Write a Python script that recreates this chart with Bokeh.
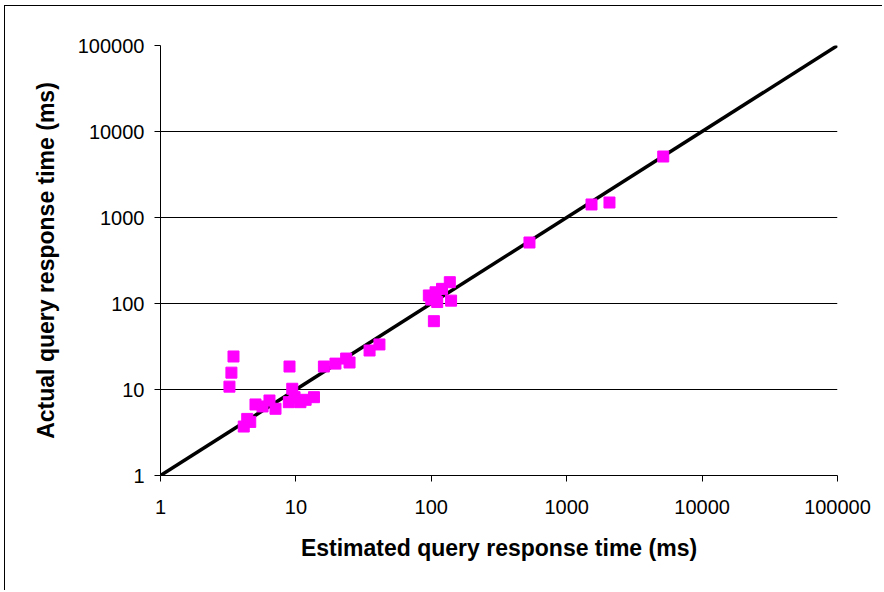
from bokeh.plotting import figure
from bokeh.models import Range1d, FixedTicker, NumeralTickFormatter, ColumnDataSource
from bokeh.embed import file_html
from bokeh.resources import INLINE

# ---- data ----
estimated_ms = [3.23, 3.34, 3.46, 4.12, 4.37, 4.6, 5.03, 5.67, 6.38, 7.07,
                8.87, 8.97, 9.4, 9.77, 10.8, 11.8, 13.6, 16.1, 19.6, 23.5,
                24.9, 35.0, 41.4, 95.9, 100.0, 104.5, 107.5, 110.6, 120.0,
                137.0, 140.0, 531.0, 1525.0, 2070.0, 5164.0]
actual_ms = [10.8, 15.7, 24.2, 3.71, 4.55, 4.2, 6.7, 6.35, 7.45, 5.97,
             7.12, 18.5, 10.2, 8.14, 7.12, 7.59, 8.14, 18.5, 20.0, 22.9,
             20.6, 28.4, 33.4, 124.0, 111.0, 62.3, 135.0, 104.0, 148.0,
             177.0, 108.0, 512.0, 1417.0, 1494.0, 5118.0]
ideal_x = [1, 100000]
ideal_y = [1, 100000]
tick_values = [1, 10, 100, 1000, 10000, 100000]

x_label = "Estimated query response time (ms)"
y_label = "Actual query response time (ms)"

FONT = "Liberation Sans"

p = figure(width=878, height=585, x_axis_type="log", y_axis_type="log",
           x_range=Range1d(1, 100000), y_range=Range1d(1, 100000),
           output_backend="svg", toolbar_location=None,
           min_border_left=155, min_border_right=46,
           min_border_top=39, min_border_bottom=116)
p.styles = {"border-left": "1px solid #000000", "border-top": "1px solid #000000",
            "margin-left": "4px", "margin-top": "5px"}

p.outline_line_color = None
p.background_fill_color = "white"
p.border_fill_color = "white"

# grid: horizontal only
p.xgrid.grid_line_color = None
p.ygrid.grid_line_color = "black"
p.ygrid.grid_line_width = 1
p.ygrid.ticker = FixedTicker(ticks=tick_values)

for ax in (p.xaxis[0], p.yaxis[0]):
    ax.ticker = FixedTicker(ticks=tick_values)
    ax.formatter = NumeralTickFormatter(format="0")
    ax.axis_line_color = "black"
    ax.axis_line_width = 1
    ax.major_tick_line_color = "black"
    ax.major_tick_out = 6
    ax.major_tick_in = 0
    ax.minor_tick_line_color = None
    ax.major_label_text_font = FONT
    ax.major_label_text_font_size = "20px"
    ax.major_label_text_color = "black"
    ax.axis_label_text_font = FONT
    ax.axis_label_text_font_style = "bold"
    ax.axis_label_text_font_size = "23px"
    ax.axis_label_text_color = "black"

p.xaxis.axis_label = x_label
p.yaxis.axis_label = y_label
p.xaxis.major_label_standoff = 18
p.xaxis.axis_label_standoff = 18
p.yaxis.major_label_standoff = 10
p.yaxis.axis_label_standoff = 16

# ideal (y = x) line
p.line(ideal_x, ideal_y, line_color="black", line_width=3.5)

src = ColumnDataSource(dict(x=estimated_ms, y=actual_ms))
p.scatter("x", "y", source=src, marker="square", size=11,
          fill_color="#FF00FF", line_color="#FF00FF")

open("out.html", "w").write(file_html(p, INLINE))
